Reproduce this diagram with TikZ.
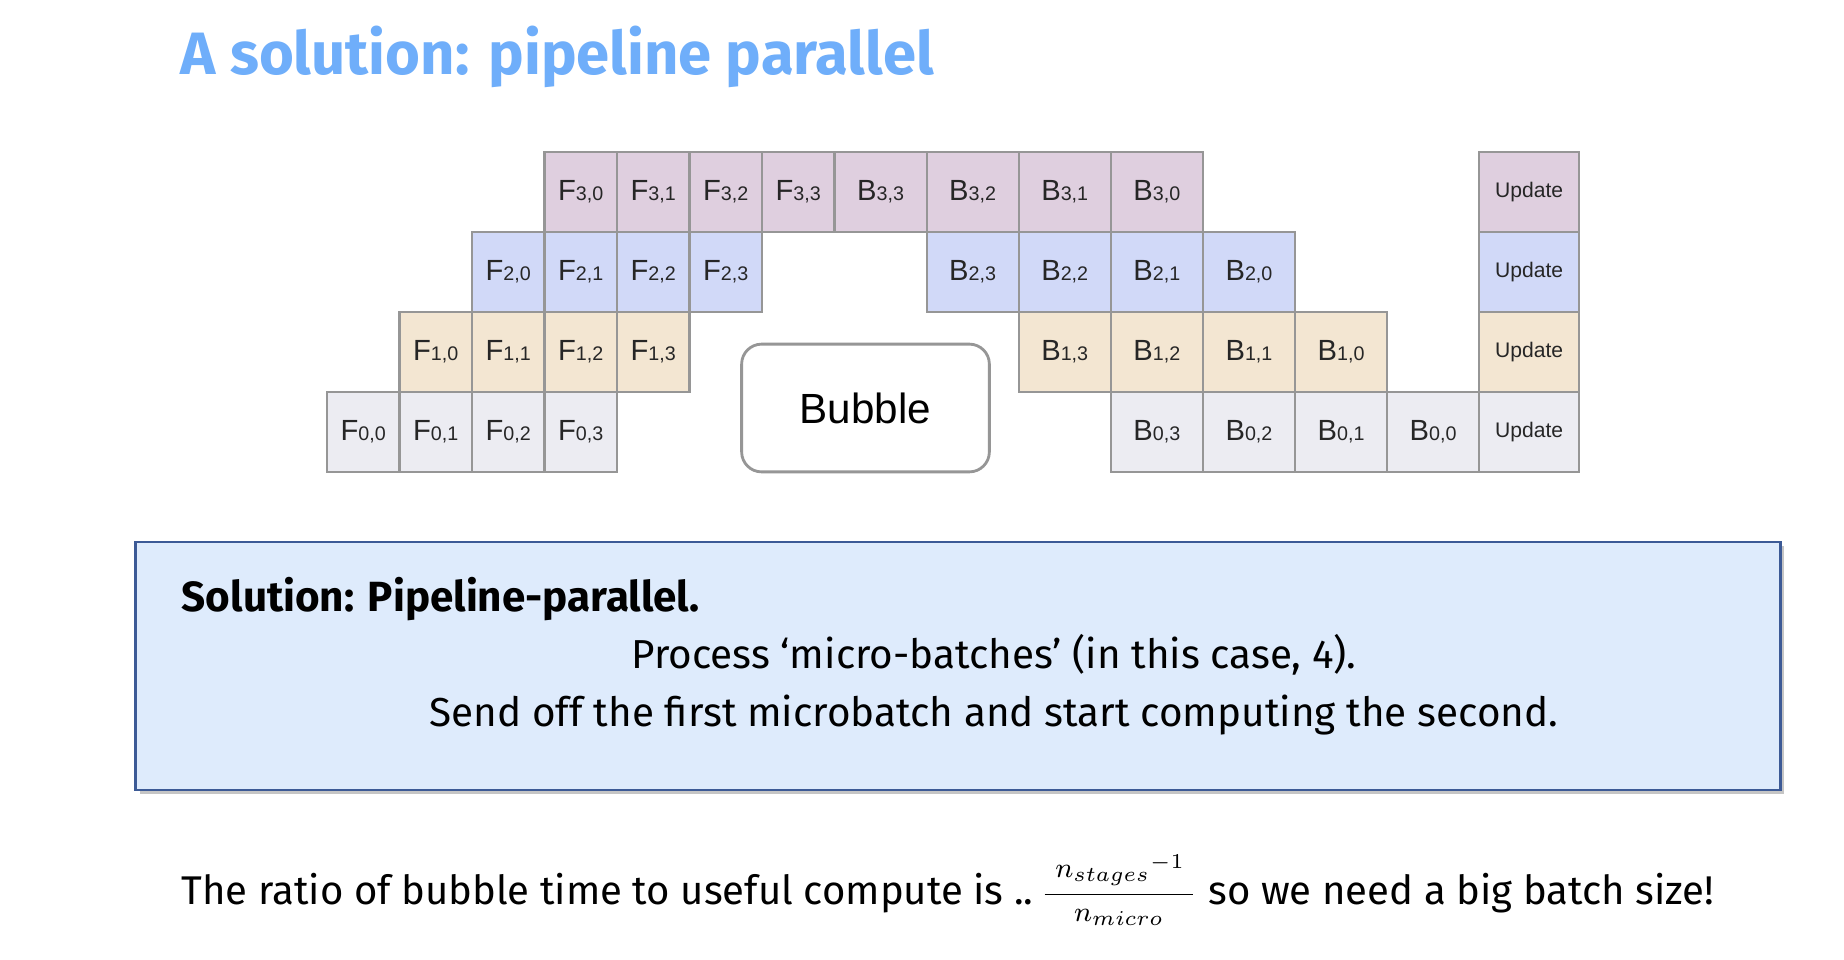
\documentclass[tikz,border=0pt]{standalone}
\usepackage{fontspec}
\setmainfont{Fira Sans}
\newfontfamily\cellfont{Liberation Sans}
\usetikzlibrary{shadows}

\definecolor{titleblue}{RGB}{111,174,250}
\definecolor{stagethree}{RGB}{223,207,223}
\definecolor{stagetwo}{RGB}{209,217,248}
\definecolor{stageone}{RGB}{243,230,210}
\definecolor{stagezero}{RGB}{236,236,242}
\definecolor{cellline}{RGB}{150,150,150}
\definecolor{notefill}{RGB}{222,235,252}
\definecolor{noteline}{RGB}{60,90,150}

\newcommand{\cellname}[2]{#1{\fontsize{5.6}{6}\selectfont #2}}

\tikzset{
    cell/.style={draw=cellline, line width=0.6pt, inner sep=0pt, minimum height=0.8cm,
        text=black!85, font=\cellfont\fontsize{8.3}{9}\selectfont},
    fcell/.style={cell, minimum width=0.725cm},
    bcell/.style={cell, minimum width=0.921cm},
    ucell/.style={cell, minimum width=0.998cm, font=\cellfont\fontsize{6}{7}\selectfont},
    notebox/.style={draw=noteline, line width=0.8pt, fill=notefill, minimum width=16.44cm,
        minimum height=2.48cm, inner sep=0pt,
        drop shadow={shadow xshift=0.04cm, shadow yshift=-0.04cm, opacity=0.45}},
    line/.style={inner sep=0pt, font=\fontsize{11.5}{14}\selectfont},
}

\begin{document}
\begin{tikzpicture}[x=0.01cm, y=-0.01cm]
    \useasboundingbox[fill=white] (0,0) rectangle (1844,960);
    \node[anchor=base west, inner sep=0pt, text=titleblue, font=\bfseries\fontsize{17}{19}\selectfont] (title) at (180,74) {A solution: pipeline parallel};
    \foreach \s/\col in {0/stagezero,1/stageone,2/stagetwo,3/stagethree} {
        \foreach \m in {0,...,3} {
            \node[fcell, fill=\col] (F\s\m) at ({363.25+72.5*(\s+\m)}, {191.7+80*(3-\s)}) {\cellname{F}{\s,\m}};
            \node[bcell, fill=\col] (B\s\m) at ({880.55+92.1*(6-\s-\m)}, {191.7+80*(3-\s)}) {\cellname{B}{\s,\m}};
        }
        \node[ucell, fill=\col] (U\s) at (1529.1, {191.7+80*(3-\s)}) {Update};
    }
    \node[draw=cellline, line width=0.8pt, rounded corners=0.2cm, minimum width=2.476cm, minimum height=1.277cm,
        font=\cellfont\fontsize{12}{13}\selectfont] (bubble) at (865.5,408) {Bubble};
    \node[notebox] (note) at (958,666) {};
    \node[line, anchor=base west, font=\bfseries\fontsize{12}{14}\selectfont] (notehead) at (181,611) {Solution: Pipeline-parallel.};
    \node[line, anchor=base] (noteone) at (994,668) {Process ‘micro-batches’ (in this case, 4).};
    \node[line, anchor=base] (notetwo) at (994,726) {Send off the first microbatch and start computing the second.};
    \node[line, anchor=base west, font=\fontsize{11.4}{14}\selectfont] (ratio) at (181,904)
        {The ratio of bubble time to useful compute is ..\hspace{2pt}$\displaystyle\frac{\;\scriptstyle {n_{stages}}^{-1}\;}{\raisebox{2.5pt}{$\scriptstyle n_{micro}$}}$ so we need a big batch size!};
\end{tikzpicture}
\end{document}
